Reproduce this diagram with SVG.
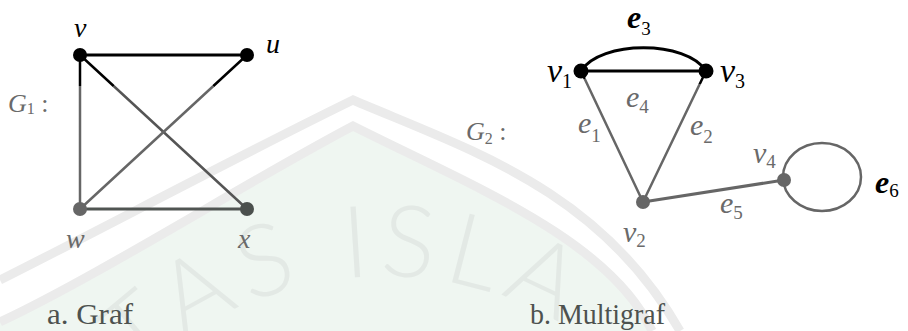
<svg xmlns="http://www.w3.org/2000/svg" width="908" height="331" viewBox="0 0 908 331">
<style>
text{font-family:'Liberation Serif','Times New Roman','DejaVu Serif',serif}
.lbl{font-style:italic}
.sub{font-style:normal}
.blk{fill:#000}
.gry{fill:#6a6a6a}
.cap{fill:#4d524f;font-size:29px}
.edge{fill:none;stroke-linecap:round}
.wm-band{fill:none;stroke:#ebebeb;stroke-width:9}
.wm-text{font-family:Lato,'Liberation Sans',sans-serif;font-weight:300;font-size:100px;fill:#e3e9e5;letter-spacing:9px}
</style>
<defs>
<linearGradient id="gVW" gradientUnits="userSpaceOnUse" x1="80" y1="55" x2="80" y2="209">
<stop offset="0.2" stop-color="#000"/><stop offset="0.2" stop-color="#666"/></linearGradient>
<linearGradient id="gVX" gradientUnits="userSpaceOnUse" x1="80" y1="55" x2="247" y2="209">
<stop offset="0.2" stop-color="#000"/><stop offset="0.2" stop-color="#555"/></linearGradient>
<linearGradient id="gUW" gradientUnits="userSpaceOnUse" x1="247" y1="55" x2="80" y2="209">
<stop offset="0.2" stop-color="#000"/><stop offset="0.2" stop-color="#666"/></linearGradient>
<linearGradient id="gE1" gradientUnits="userSpaceOnUse" x1="581" y1="71" x2="643" y2="202">
<stop offset="0.06" stop-color="#000"/><stop offset="0.06" stop-color="#666"/></linearGradient>
<linearGradient id="gE2" gradientUnits="userSpaceOnUse" x1="706" y1="71" x2="643" y2="202">
<stop offset="0.1" stop-color="#000"/><stop offset="0.1" stop-color="#666"/></linearGradient>
<path id="wmArc" d="M120,396 A350,350 0 0 1 680,440"/>
</defs>

<g id="watermark">
<rect width="908" height="331" fill="#fff"/>
<path d="M0,322 C100,275 250,180 353,126 C470,185 610,240 652,331 L0,331 Z" fill="#eff6f1"/>
<path class="wm-band" d="M0,280 C90,235 250,150 353,100 C470,150 600,190 680,331"/>
<path class="wm-band" d="M0,322 C100,275 250,180 353,126 C470,185 610,240 652,331"/>
<text class="wm-text"><textPath href="#wmArc" startOffset="26">TAS ISLA</textPath></text>
</g>

<g id="connectors">
<line class="edge" x1="80" y1="55" x2="247" y2="55" stroke="#000" stroke-width="3"/>
<line class="edge" x1="80" y1="55" x2="80" y2="209" stroke="url(#gVW)" stroke-width="2.5"/>
<line class="edge" x1="80" y1="55" x2="247" y2="209" stroke="url(#gVX)" stroke-width="2.5"/>
<line class="edge" x1="247" y1="55" x2="80" y2="209" stroke="url(#gUW)" stroke-width="2.5"/>
<line class="edge" x1="80" y1="209" x2="247" y2="209" stroke="#505552" stroke-width="3"/>

<path class="edge" d="M581,71 C600,40 687,40 706,71" stroke="#000" stroke-width="3"/>
<line class="edge" x1="581" y1="71" x2="706" y2="71" stroke="#000" stroke-width="3"/>
<line class="edge" x1="581" y1="71" x2="643" y2="202" stroke="url(#gE1)" stroke-width="2.5"/>
<line class="edge" x1="706" y1="71" x2="643" y2="202" stroke="url(#gE2)" stroke-width="2.5"/>
<line class="edge" x1="643" y1="202" x2="784" y2="180" stroke="#666" stroke-width="3"/>
<ellipse class="edge" cx="822" cy="177" rx="39" ry="34" stroke="#666" stroke-width="2.5"/>
</g>

<g id="node-v"><circle cx="80" cy="55" r="7" fill="#000"/><text class="lbl blk" x="74" y="37" font-size="28">v</text></g>
<g id="node-u"><circle cx="247" cy="55" r="7" fill="#000"/><text class="lbl blk" x="266" y="53" font-size="28">u</text></g>
<g id="node-w"><circle cx="80" cy="209" r="7" fill="#666"/><text class="lbl gry" x="66" y="248" font-size="28">w</text></g>
<g id="node-x"><circle cx="247" cy="209" r="7" fill="#4b504d"/><text class="lbl gry" x="238" y="248" font-size="28">x</text></g>
<g id="label-G1"><text class="lbl gry" x="8" y="112" font-size="26">G<tspan class="sub" font-size="16" dy="2">1</tspan><tspan class="sub" dy="-2"> :</tspan></text></g>
<g id="caption-a"><text class="cap" x="47" y="324" textLength="86" lengthAdjust="spacingAndGlyphs">a. Graf</text></g>

<g id="node-v1"><circle cx="581" cy="71" r="7.5" fill="#000"/><text class="lbl blk" x="547" y="82" font-size="34">v<tspan class="sub" font-size="20" dy="6">1</tspan></text></g>
<g id="node-v3"><circle cx="706" cy="71" r="7.5" fill="#000"/><text class="lbl blk" x="720" y="82" font-size="34">v<tspan class="sub" font-size="20" dy="6">3</tspan></text></g>
<g id="node-v2"><circle cx="643" cy="202" r="7" fill="#666"/><text class="lbl gry" x="623" y="242" font-size="30">v<tspan class="sub" font-size="19" dy="5">2</tspan></text></g>
<g id="node-v4"><circle cx="784" cy="180" r="7" fill="#666"/><text class="lbl gry" x="753" y="163" font-size="30">v<tspan class="sub" font-size="19" dy="5">4</tspan></text></g>
<g id="label-e3"><text class="lbl blk" x="627" y="28" font-size="32" font-weight="bold">e<tspan class="sub" font-weight="normal" font-size="19" dy="7">3</tspan></text></g>
<g id="label-e4"><text class="lbl gry" x="626" y="107" font-size="30">e<tspan class="sub" font-size="19" dy="6">4</tspan></text></g>
<g id="label-e1"><text class="lbl gry" x="578" y="133" font-size="30">e<tspan class="sub" font-size="19" dy="9">1</tspan></text></g>
<g id="label-e2"><text class="lbl gry" x="690" y="135" font-size="30">e<tspan class="sub" font-size="19" dy="8">2</tspan></text></g>
<g id="label-e5"><text class="lbl gry" x="720" y="213" font-size="30">e<tspan class="sub" font-size="19" dy="6">5</tspan></text></g>
<g id="label-e6"><text class="lbl blk" x="875" y="193" font-size="32" font-weight="bold">e<tspan class="sub" font-weight="normal" font-size="19" dy="4">6</tspan></text></g>
<g id="label-G2"><text class="lbl gry" x="466" y="140" font-size="26">G<tspan class="sub" font-size="16" dy="4">2</tspan><tspan class="sub" dy="-4"> :</tspan></text></g>
<g id="caption-b"><text class="cap" x="530" y="324" textLength="135" lengthAdjust="spacingAndGlyphs">b. Multigraf</text></g>
</svg>
